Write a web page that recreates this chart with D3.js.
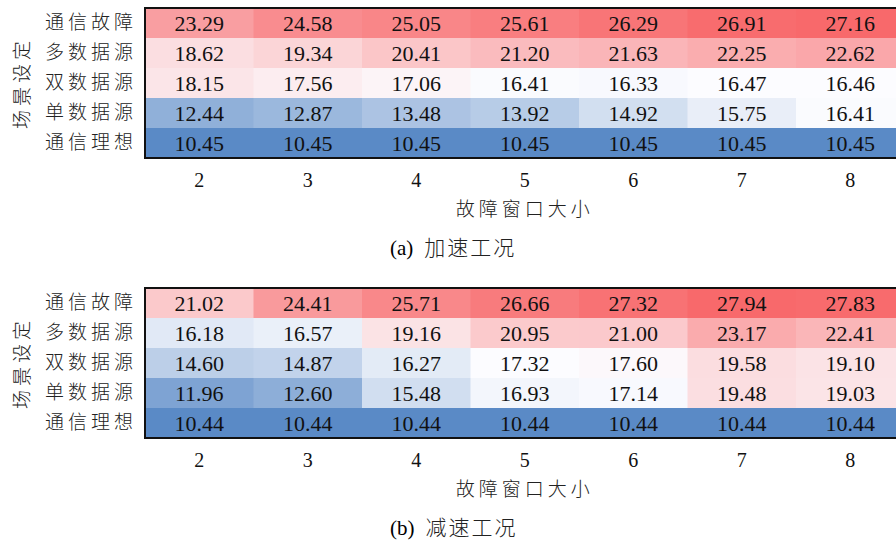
<!DOCTYPE html>
<html>
<head>
<meta charset="utf-8">
<script src="https://cdn.jsdelivr.net/npm/d3@7"></script>
<style>
  html, body { margin: 0; padding: 0; background: #fff; overflow: hidden; }
  svg { display: block; }
  svg text.num { font-family: "Liberation Serif", "Times New Roman", Tinos, "DejaVu Serif", serif !important; fill: #111; }
  svg text.cjk, svg tspan.cjk { font-family: "Noto Sans CJK SC", sans-serif; font-weight: 300; fill: #222; }
  svg tspan.num { font-family: "Liberation Serif", "Times New Roman", serif; }
</style>
</head>
<body>
<svg id="chart" width="896" height="543"></svg>
<script>
// Fault-window sizes (columns) and scenarios (rows, top to bottom)
const windowSizes = ["2", "3", "4", "5", "6", "7", "8"];
const scenarios = ["通信故障", "多数据源", "双数据源", "单数据源", "通信理想"];

// (a) acceleration condition
const accelFault    = [23.29, 24.58, 25.05, 25.61, 26.29, 26.91, 27.16];
const accelMulti    = [18.62, 19.34, 20.41, 21.20, 21.63, 22.25, 22.62];
const accelDual     = [18.15, 17.56, 17.06, 16.41, 16.33, 16.47, 16.46];
const accelSingle   = [12.44, 12.87, 13.48, 13.92, 14.92, 15.75, 16.41];
const accelIdeal    = [10.45, 10.45, 10.45, 10.45, 10.45, 10.45, 10.45];

// (b) deceleration condition
const decelFault    = [21.02, 24.41, 25.71, 26.66, 27.32, 27.94, 27.83];
const decelMulti    = [16.18, 16.57, 19.16, 20.95, 21.00, 23.17, 22.41];
const decelDual     = [14.60, 14.87, 16.27, 17.32, 17.60, 19.58, 19.10];
const decelSingle   = [11.96, 12.60, 15.48, 16.93, 17.14, 19.48, 19.03];
const decelIdeal    = [10.44, 10.44, 10.44, 10.44, 10.44, 10.44, 10.44];

const yTitle = "场景设定";
const xTitle = "故障窗口大小";
const captions = ["(a)", "(b)"];
const captionTexts = ["加速工况", "减速工况"];

const panels = [
  { rows: [accelFault, accelMulti, accelDual, accelSingle, accelIdeal], top: 8 },
  { rows: [decelFault, decelMulti, decelDual, decelSingle, decelIdeal], top: 288 }
];

const SERIF = '"Liberation Serif", "Times New Roman", Tinos, serif';

const svg = d3.select("#chart");
const left = 145, colW = 108.5, height = 150;
const width = colW * windowSizes.length;

panels.forEach((p, pi) => {
  const g = svg.append("g").attr("transform", `translate(${left},${p.top})`);

  const x = d3.scaleBand().domain(windowSizes).range([0, width]).padding(0);
  const y = d3.scaleBand().domain(scenarios).range([0, height]).padding(0);

  // three-colour scale: min blue, median white, max red
  const all = p.rows.flat();
  const color = d3.scaleLinear()
    .domain([d3.min(all), d3.median(all), d3.max(all)])
    .range(["#5A8AC6", "#FCFCFF", "#F8696B"]);

  const cells = [];
  p.rows.forEach((vals, ri) => vals.forEach((v, ci) => cells.push({ r: scenarios[ri], c: windowSizes[ci], v })));

  g.selectAll("rect.cell").data(cells).join("rect")
    .attr("class", "cell")
    .attr("x", d => x(d.c))
    .attr("y", d => y(d.r))
    .attr("width", x.bandwidth() + 0.5)
    .attr("height", y.bandwidth() + 0.5)
    .attr("fill", d => color(d.v));

  g.selectAll("text.val").data(cells).join("text")
    .attr("class", "val num")
    .style("font-family", SERIF)
    .attr("x", d => x(d.c) + x.bandwidth() / 2)
    .attr("y", d => y(d.r) + y.bandwidth() / 2)
    .attr("dy", "0.35em")
    .attr("text-anchor", "middle")
    .attr("font-size", 22)
    .text(d => d.v.toFixed(2));

  // outer frame
  g.append("rect")
    .attr("x", 0).attr("y", 0)
    .attr("width", width).attr("height", height)
    .attr("fill", "none").attr("stroke", "#111").attr("stroke-width", 2);

  // x axis tick labels
  const xAxis = d3.axisBottom(x).tickSize(0).tickPadding(10);
  const xg = g.append("g").attr("transform", `translate(0,${height})`).call(xAxis)
    .attr("font-family", SERIF);
  xg.select(".domain").remove();
  xg.selectAll("text").attr("class", "num").style("font-family", SERIF)
    .attr("font-size", 20).attr("dy", "0.95em");

  // y axis tick labels
  const yAxis = d3.axisLeft(y).tickSize(0).tickPadding(12);
  const yg = g.append("g").call(yAxis).attr("font-family", null);
  yg.select(".domain").remove();
  yg.selectAll("text").attr("class", "cjk").attr("font-size", 19)
    .attr("letter-spacing", "4px").attr("dx", "4px");

  // axis titles
  g.append("text").attr("class", "cjk")
    .attr("transform", `translate(${-123},${height / 2}) rotate(-90)`)
    .attr("text-anchor", "middle").attr("dy", "0.35em")
    .attr("font-size", 19).attr("letter-spacing", "4px")
    .text(yTitle);

  g.append("text").attr("class", "cjk")
    .attr("x", width / 2).attr("y", height + 51)
    .attr("text-anchor", "middle").attr("dy", "0.35em")
    .attr("font-size", 19).attr("letter-spacing", "4px")
    .text(xTitle);

  // caption
  const cap = g.append("text").attr("x", 390 - left).attr("y", height + 91).attr("dy", "0.35em");
  cap.append("tspan").attr("class", "num").style("font-family", SERIF).attr("font-size", 21).text(captions[pi]);
  cap.append("tspan").attr("class", "cjk").attr("font-size", 21).attr("dx", 11)
    .attr("letter-spacing", "2px").text(captionTexts[pi]);
});
</script>
</body>
</html>
